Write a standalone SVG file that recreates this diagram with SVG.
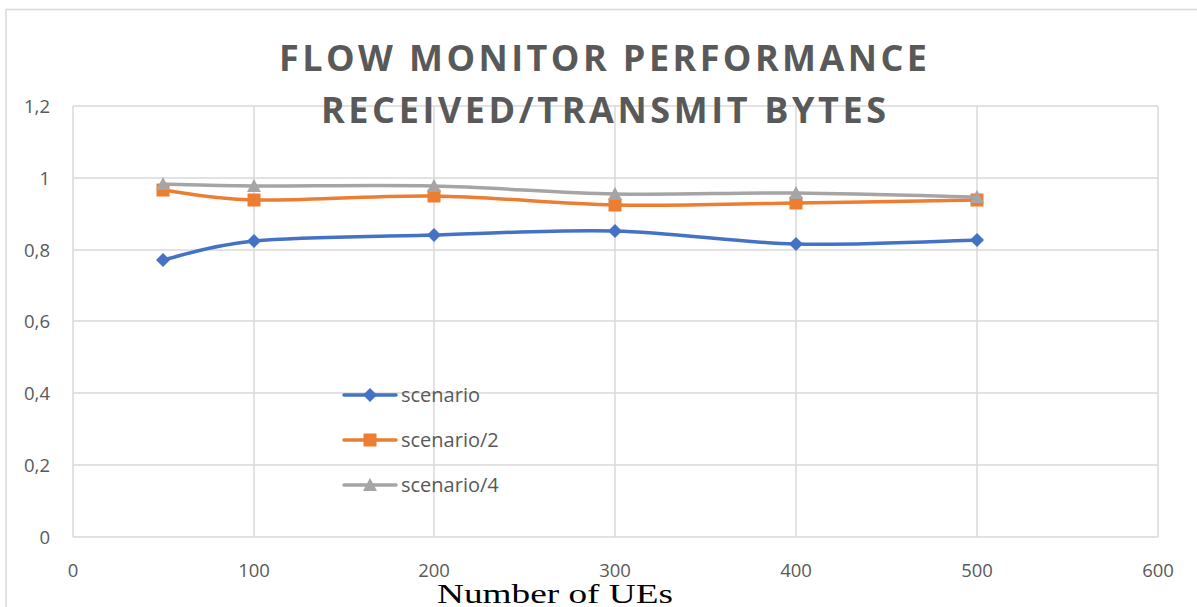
<svg xmlns="http://www.w3.org/2000/svg" width="1197" height="607" viewBox="0 0 1197 607">
  <style>
    .grid { stroke: #d9d9d9; stroke-width: 1.5; fill: none; }
    .tick { font-family: "Open Sans", "Liberation Sans", sans-serif; font-size: 18.5px; fill: #595959; }
    .title { font-family: "Open Sans", "Liberation Sans", sans-serif; font-size: 36px; font-weight: bold; fill: #595959; }
    .axis-title { font-family: "Liberation Serif", serif; font-size: 28px; fill: #000; }
    .legend { font-family: "Open Sans", "Liberation Sans", sans-serif; font-size: 20px; fill: #595959; }
    .s1 { stroke: #4472c4; stroke-width: 3.5; fill: none; stroke-linecap: round; }
    .s2 { stroke: #ed7d31; stroke-width: 3.5; fill: none; stroke-linecap: round; }
    .s3 { stroke: #a5a5a5; stroke-width: 3.5; fill: none; stroke-linecap: round; }
  </style>
  <defs>
    <path id="diamond" d="M0,-7 L7,0 L0,7 L-7,0 Z" fill="#4472c4"/>
    <rect id="square" x="-6.5" y="-6.5" width="13" height="13" fill="#ed7d31"/>
    <path id="triangle" d="M0,-7 L7,6 L-7,6 Z" fill="#a5a5a5"/>
  </defs>

  <rect width="1197" height="607" fill="#ffffff"/>
  <!-- chart frame -->
  <path d="M6,607 V9.5 H1197" class="grid"/>

  <!-- plot area grid -->
  <g id="grid">
    <path class="grid" d="M73,106 H1158 M73,178 H1158 M73,250 H1158 M73,321 H1158 M73,393 H1158 M73,465 H1158 M73,537 H1158"/>
    <path class="grid" d="M73,106 V537 M254,106 V537 M434,106 V537 M615,106 V537 M796,106 V537 M977,106 V537 M1158,106 V537"/>
  </g>

  <!-- title -->
  <g id="title">
    <text class="title" x="603" y="71" text-anchor="middle" textLength="648" lengthAdjust="spacing">FLOW MONITOR PERFORMANCE</text>
    <text class="title" x="603.5" y="123" text-anchor="middle" textLength="565" lengthAdjust="spacing">RECEIVED/TRANSMIT BYTES</text>
  </g>

  <!-- y axis labels -->
  <g id="y-axis" class="tick" text-anchor="end">
    <text x="50" y="113">1,2</text>
    <text x="50" y="185">1</text>
    <text x="50" y="257">0,8</text>
    <text x="50" y="328">0,6</text>
    <text x="50" y="400">0,4</text>
    <text x="50" y="472">0,2</text>
    <text x="50" y="544">0</text>
  </g>

  <!-- x axis labels -->
  <g id="x-axis" class="tick" text-anchor="middle">
    <text x="73" y="577">0</text>
    <text x="254" y="577">100</text>
    <text x="434" y="577">200</text>
    <text x="615" y="577">300</text>
    <text x="796" y="577">400</text>
    <text x="977" y="577">500</text>
    <text x="1158" y="577">600</text>
  </g>
  <text id="x-title" class="axis-title" x="555" y="603" text-anchor="middle" textLength="236" lengthAdjust="spacingAndGlyphs">Number of UEs</text>

  <!-- data series -->
  <g id="series-scenario">
    <path class="s1" d="M163,260 C178.2,256.8 208.8,245.2 254,241 C299.2,236.8 373.8,236.7 434,235 C494.2,233.3 554.7,229.5 615,231 C675.3,232.5 735.7,242.5 796,244 C856.3,245.5 946.8,240.7 977,240"/>
    <use href="#diamond" x="163" y="260"/>
    <use href="#diamond" x="254" y="241"/>
    <use href="#diamond" x="434" y="235"/>
    <use href="#diamond" x="615" y="231"/>
    <use href="#diamond" x="796" y="244"/>
    <use href="#diamond" x="977" y="240"/>
  </g>
  <g id="series-scenario-2">
    <path class="s2" d="M163,190 C178.2,191.7 208.8,199 254,200 C299.2,201 373.8,195.2 434,196 C494.2,196.8 554.7,203.8 615,205 C675.3,206.2 735.7,203.8 796,203 C856.3,202.2 946.8,200.5 977,200"/>
    <use href="#square" x="163" y="190"/>
    <use href="#square" x="254" y="200"/>
    <use href="#square" x="434" y="196"/>
    <use href="#square" x="615" y="205"/>
    <use href="#square" x="796" y="203"/>
    <use href="#square" x="977" y="200"/>
  </g>
  <g id="series-scenario-4">
    <path class="s3" d="M163,184 C178.2,184.3 208.8,185.7 254,186 C299.2,186.3 373.8,184.7 434,186 C494.2,187.3 554.7,192.8 615,194 C675.3,195.2 735.7,192.5 796,193 C856.3,193.5 946.8,196.3 977,197"/>
    <use href="#triangle" x="163" y="184"/>
    <use href="#triangle" x="254" y="186"/>
    <use href="#triangle" x="434" y="186"/>
    <use href="#triangle" x="615" y="194"/>
    <use href="#triangle" x="796" y="193"/>
    <use href="#triangle" x="977" y="197"/>
  </g>

  <!-- legend -->
  <g id="legend">
    <path class="s1" d="M344,395 H396"/>
    <use href="#diamond" x="370" y="395"/>
    <text class="legend" x="401" y="402">scenario</text>
    <path class="s2" d="M344,440 H396"/>
    <use href="#square" x="370" y="440"/>
    <text class="legend" x="401" y="447">scenario/2</text>
    <path class="s3" d="M344,485 H396"/>
    <use href="#triangle" x="370" y="485"/>
    <text class="legend" x="401" y="492">scenario/4</text>
  </g>
</svg>
